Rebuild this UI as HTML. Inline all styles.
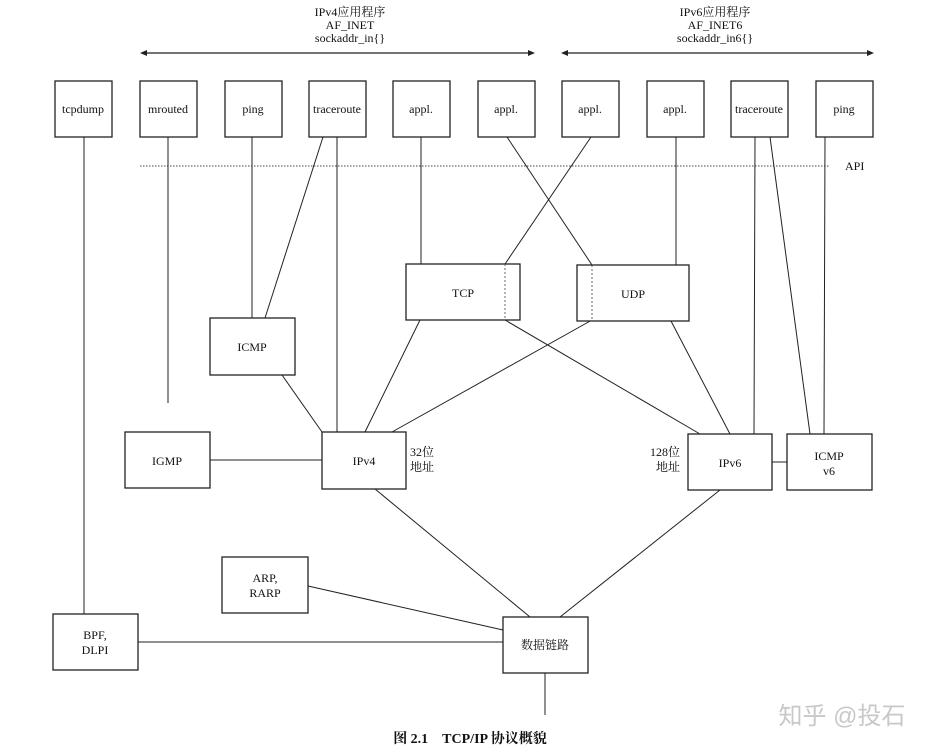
<!DOCTYPE html>
<html><head><meta charset="utf-8"><style>
html,body{margin:0;padding:0;background:#fff;}
svg{display:block;font-family:"Liberation Serif","Noto Serif CJK SC",serif;}
</style></head><body>
<svg width="934" height="754" viewBox="0 0 934 754" xmlns="http://www.w3.org/2000/svg">
<g font-size="12" fill="#111" text-anchor="middle">
<text x="350" y="16">IPv4应用程序</text>
<text x="350" y="29">AF_INET</text>
<text x="350" y="42">sockaddr_in{}</text>
<text x="715" y="16">IPv6应用程序</text>
<text x="715" y="29">AF_INET6</text>
<text x="715" y="42">sockaddr_in6{}</text>
</g>
<g stroke="#222" stroke-width="1.2" fill="none">
<line x1="142" y1="53" x2="533" y2="53"/>
<line x1="563" y1="53" x2="872" y2="53"/>
</g>
<g fill="#222">
<polygon points="140,53 147,50 147,56"/>
<polygon points="535,53 528,50 528,56"/>
<polygon points="561,53 568,50 568,56"/>
<polygon points="874,53 867,50 867,56"/>
</g>
<line x1="140" y1="166" x2="830" y2="166" stroke="#444" stroke-width="1" stroke-dasharray="1.5,1.5"/>
<text x="845" y="170" font-size="12" fill="#111">API</text>
<g stroke="#222" stroke-width="1" fill="none">
<line x1="84" y1="137" x2="84" y2="614"/>
<line x1="168" y1="137" x2="168" y2="403"/>
<line x1="252" y1="137" x2="252" y2="318"/>
<line x1="323" y1="137" x2="265" y2="318"/>
<line x1="337" y1="137" x2="337" y2="432"/>
<line x1="421" y1="137" x2="421" y2="264"/>
<line x1="507" y1="137" x2="592" y2="265"/>
<line x1="591" y1="137" x2="505" y2="264"/>
<line x1="676" y1="137" x2="676" y2="265"/>
<line x1="755" y1="137" x2="754" y2="434"/>
<line x1="770" y1="137" x2="810" y2="434"/>
<line x1="825" y1="137" x2="824" y2="434"/>
<line x1="282" y1="375" x2="322" y2="432"/>
<line x1="420" y1="320" x2="365" y2="432"/>
<line x1="592" y1="320" x2="392" y2="432"/>
<line x1="505" y1="320" x2="700" y2="434"/>
<line x1="671" y1="321" x2="730" y2="434"/>
<line x1="210" y1="460" x2="322" y2="460"/>
<line x1="772" y1="462" x2="787" y2="462"/>
<line x1="375" y1="489" x2="530" y2="617"/>
<line x1="720" y1="490" x2="560" y2="617"/>
<line x1="308" y1="586" x2="503" y2="630"/>
<line x1="138" y1="642" x2="503" y2="642"/>
<line x1="545" y1="673" x2="545" y2="715"/>
</g>
<g stroke="#222" stroke-width="1.3" fill="#fff">
<rect x="55" y="81" width="57" height="56"/>
<rect x="140" y="81" width="57" height="56"/>
<rect x="225" y="81" width="57" height="56"/>
<rect x="309" y="81" width="57" height="56"/>
<rect x="393" y="81" width="57" height="56"/>
<rect x="478" y="81" width="57" height="56"/>
<rect x="562" y="81" width="57" height="56"/>
<rect x="647" y="81" width="57" height="56"/>
<rect x="731" y="81" width="57" height="56"/>
<rect x="816" y="81" width="57" height="56"/>
<rect x="406" y="264" width="114" height="56"/>
<rect x="577" y="265" width="112" height="56"/>
<rect x="210" y="318" width="85" height="57"/>
<rect x="125" y="432" width="85" height="56"/>
<rect x="322" y="432" width="84" height="57"/>
<rect x="688" y="434" width="84" height="56"/>
<rect x="787" y="434" width="85" height="56"/>
<rect x="222" y="557" width="86" height="56"/>
<rect x="53" y="614" width="85" height="56"/>
<rect x="503" y="617" width="85" height="56"/>
</g>
<g stroke="#444" stroke-width="0.8" stroke-dasharray="2,2">
<line x1="505" y1="264" x2="505" y2="320"/>
<line x1="592" y1="265" x2="592" y2="321"/>
</g>
<g font-size="12" fill="#111" text-anchor="middle">
<text x="83" y="113">tcpdump</text>
<text x="168" y="113">mrouted</text>
<text x="253" y="113">ping</text>
<text x="337" y="113">traceroute</text>
<text x="421" y="113">appl.</text>
<text x="506" y="113">appl.</text>
<text x="590" y="113">appl.</text>
<text x="675" y="113">appl.</text>
<text x="759" y="113">traceroute</text>
<text x="844" y="113">ping</text>
<text x="463" y="297">TCP</text>
<text x="633" y="298">UDP</text>
<text x="252" y="351">ICMP</text>
<text x="167" y="465">IGMP</text>
<text x="364" y="465">IPv4</text>
<text x="730" y="467">IPv6</text>
<text x="829" y="460">ICMP</text>
<text x="829" y="475">v6</text>
<text x="265" y="582">ARP,</text>
<text x="265" y="597">RARP</text>
<text x="95" y="639">BPF,</text>
<text x="95" y="654">DLPI</text>
<text x="545" y="649">数据链路</text>
</g>
<g font-size="12" fill="#111">
<text x="410" y="456">32位</text>
<text x="410" y="471">地址</text>
<text x="680" y="456" text-anchor="end">128位</text>
<text x="680" y="471" text-anchor="end">地址</text>
</g>
<text x="470" y="743" font-size="14" fill="#111" text-anchor="middle" font-weight="bold">图 2.1　TCP/IP 协议概貌</text>
<text x="842" y="724" font-size="24" fill="#c8c8c8" text-anchor="middle" font-family="Liberation Sans,Noto Sans CJK SC,sans-serif">知乎 @投石</text>
</svg>
</body></html>
